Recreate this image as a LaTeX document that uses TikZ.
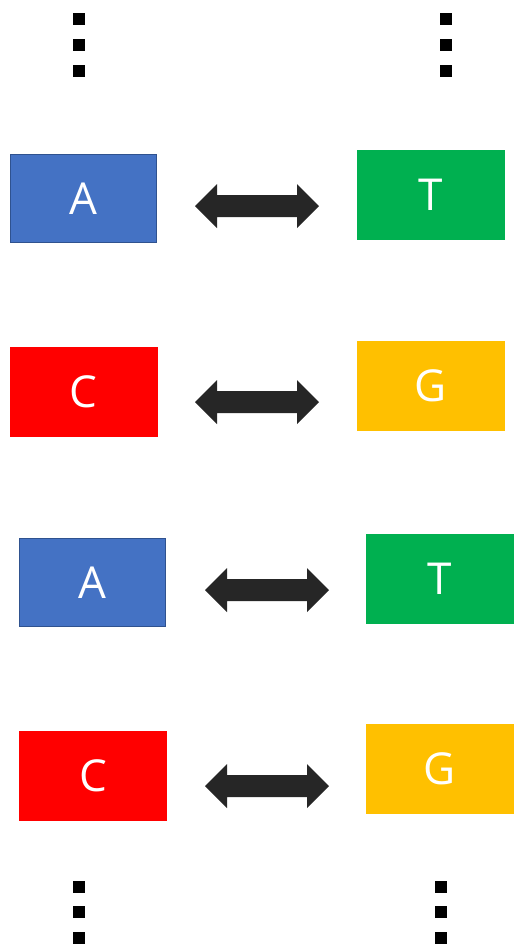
\documentclass[tikz,border=0pt]{standalone}
\usepackage{fontspec}
\setmainfont{Open Sans}
\definecolor{aBlue}{HTML}{4472C4}
\definecolor{aBlueEdge}{HTML}{2F528F}
\definecolor{tGreen}{HTML}{00B050}
\definecolor{cRed}{HTML}{FF0000}
\definecolor{gGold}{HTML}{FFC000}
\definecolor{arrowDark}{HTML}{262626}
\begin{document}
\begin{tikzpicture}[x=1pt,y=-1pt,
  base/.style={minimum width=148pt,minimum height=90pt,inner sep=0pt,text=white,
    font=\fontsize{44}{50}\selectfont},
  nucA/.style={base,fill=aBlue,draw=aBlueEdge,line width=1.5pt,minimum width=146pt,minimum height=88pt},
  nucT/.style={base,fill=tGreen},
  nucC/.style={base,fill=cRed},
  nucG/.style={base,fill=gGold},
  dotsq/.style={fill=black,minimum size=12pt,inner sep=0pt},
  pics/dblarrow/.style={code={
    \fill[arrowDark] (-62,0) -- (-40,-22) -- (-40,-11) -- (40,-11) -- (40,-22) -- (62,0)
      -- (40,22) -- (40,11) -- (-40,11) -- (-40,22) -- cycle;}}
]
\useasboundingbox[fill=white] (0,0) rectangle (518,946);
% top ellipsis
\node[dotsq] (tl1) at (79,19) {};
\node[dotsq] (tl2) at (79,45) {};
\node[dotsq] (tl3) at (79,71) {};
\node[dotsq] (tr1) at (445.5,19) {};
\node[dotsq] (tr2) at (445.5,45) {};
\node[dotsq] (tr3) at (445.5,71) {};
% pairs
\node[nucA] (a1) at (83.5,198.5) {A};
\node[nucT] (t1) at (431,195) {T};
\pic at (257,206) {dblarrow};
\node[nucC] (c1) at (83.5,392) {C};
\node[nucG] (g1) at (431,386) {G};
\pic at (257,402) {dblarrow};
\node[nucA] (a2) at (92.5,582.5) {A};
\node[nucT] (t2) at (440,579) {T};
\pic at (267,590) {dblarrow};
\node[nucC] (c2) at (93,776) {C};
\node[nucG] (g2) at (440,769) {G};
\pic at (267,786) {dblarrow};
% bottom ellipsis
\node[dotsq] (bl1) at (78.5,886.5) {};
\node[dotsq] (bl2) at (78.5,912) {};
\node[dotsq] (bl3) at (78.5,938) {};
\node[dotsq] (br1) at (440.5,886.5) {};
\node[dotsq] (br2) at (440.5,912) {};
\node[dotsq] (br3) at (440.5,938) {};
\end{tikzpicture}
\end{document}
